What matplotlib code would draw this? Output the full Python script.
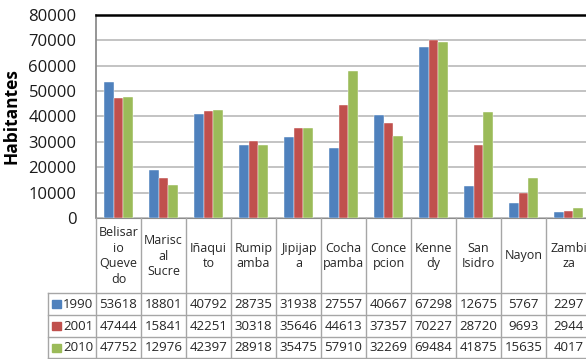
import numpy as np
import matplotlib.pyplot as plt
from matplotlib.patches import Rectangle

barrios = ["Belisar\nio\nQueve\ndo", "Marisc\nal\nSucre", "Iñaqui\nto", "Rumip\namba",
           "Jipijap\na", "Cocha\npamba", "Conce\npcion", "Kenne\ndy", "San\nIsidro",
           "Nayon", "Zambi\nza"]
anios = ["1990", "2001", "2010"]
v1990 = [53618, 18801, 40792, 28735, 31938, 27557, 40667, 67298, 12675, 5767, 2297]
v2001 = [47444, 15841, 42251, 30318, 35646, 44613, 37357, 70227, 28720, 9693, 2944]
v2010 = [47752, 12976, 42397, 28918, 35475, 57910, 32269, 69484, 41875, 15635, 4017]
yticks = [0, 10000, 20000, 30000, 40000, 50000, 60000, 70000, 80000]

series = [v1990, v2001, v2010]
colores = ["#4F81BD", "#C0504D", "#9BBB59"]
plt.rcParams['font.family'] = ["Open Sans", 'DejaVu Sans']

W, H = 586, 359
fig = plt.figure(figsize=(W / 100, H / 100), dpi=100)

# area del grafico (en pixeles de la imagen)
x0, colw = 96, 45
ytop, ybot = 15, 218
n = len(barrios)
ax = fig.add_axes([x0 / W, (H - ybot) / H, n * colw / W, (ybot - ytop) / H])
x = np.arange(n)
bw = 0.222
for i, (vals, c) in enumerate(zip(series, colores)):
    ax.bar(x + (i - 1) * bw, vals, width=bw, color=c, edgecolor="white", linewidth=0.3, zorder=3)
ax.set_xlim(-0.5, n - 0.5)
ax.set_ylim(0, 80000)
ax.set_yticks(yticks)
ax.set_yticklabels([str(t) for t in yticks], fontsize=12, color="#1A1A1A")
ax.tick_params(axis="y", length=0, pad=14)
ax.set_xticks([])
ax.yaxis.grid(True, color="#BEBEBE", linewidth=1.3, zorder=0)
ax.spines["top"].set_color("#000000")
ax.spines["top"].set_linewidth(1.8)
ax.spines["left"].set_color("#8C8C8C")
ax.spines["left"].set_linewidth(1.3)
ax.spines["bottom"].set_color("#8C8C8C")
ax.spines["right"].set_visible(False)
ax.set_ylabel("Habitantes", fontsize=12.5, fontweight="bold")
ax.yaxis.set_label_coords(-(x0 - 21) / (n * colw), 0.5)

# tabla de datos debajo
tleft = 48
legw = (x0 - tleft) / colw
tb = fig.add_axes([tleft / W, (H - 358) / H, (x0 + n * colw - tleft) / W, (358 - ybot) / H])
tb.set_xlim(-0.5 - legw, n - 0.5)
tb.set_ylim(140, 0)
tb.axis("off")
lc = "#A6A6A6"
filas = [0, 75, 97, 119, 140]
for k in range(n + 1):
    tb.plot([k - 0.5, k - 0.5], [0, 140], color=lc, lw=1, clip_on=False)
tb.plot([-0.5 - legw, -0.5 - legw], [75, 140], color=lc, lw=1, clip_on=False)
for yy in filas[1:]:
    tb.plot([-0.5 - legw, n - 0.5], [yy, yy], color=lc, lw=1, clip_on=False)

for k, b in enumerate(barrios):
    tb.text(k, 38, b, ha="center", va="center", fontsize=9, linespacing=1.27, color="#262626")
for r, (a, vals, c) in enumerate(zip(anios, series, colores)):
    yc = (filas[r + 1] + filas[r + 2]) / 2
    tb.add_patch(Rectangle((-0.5 - legw + 0.09, yc - 4), 0.19, 8, color=c, clip_on=False))
    tb.text(-0.5 - 0.06, yc, a, ha="right", va="center", fontsize=9.5, color="#262626")
    for k, v in enumerate(vals):
        tb.text(k, yc, str(v), ha="center", va="center", fontsize=9.5, color="#262626")

fig.savefig("out.png", dpi=100)
